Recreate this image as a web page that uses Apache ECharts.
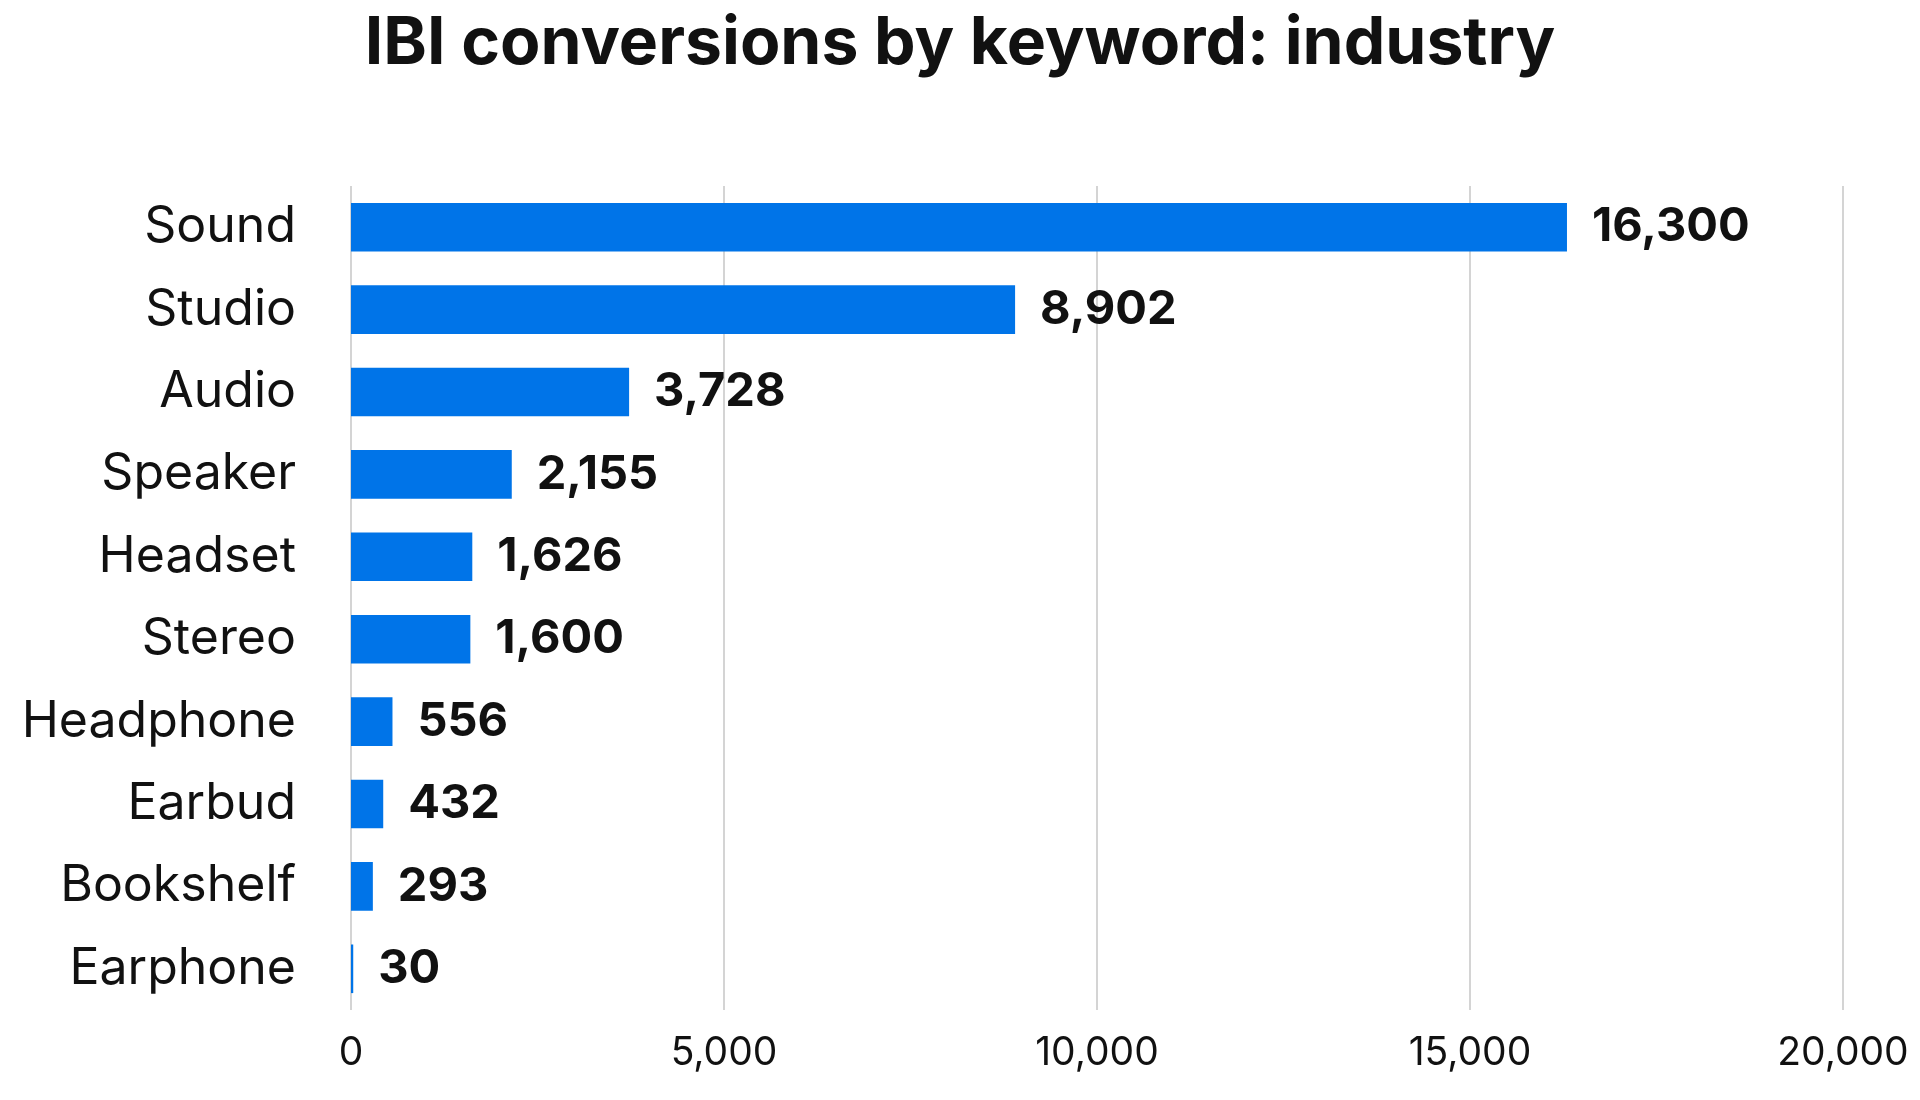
<!DOCTYPE html><html><head><meta charset="utf-8"><script src="https://cdn.jsdelivr.net/npm/echarts@6/dist/echarts.min.js"></script>
<style>html,body{margin:0;background:#fff}#c{width:1920px;height:1100px}</style></head><body><div id="c"></div><script>
const categories=["Sound","Studio","Audio","Speaker","Headset","Stereo","Headphone","Earbud","Bookshelf","Earphone"];
const values=[16300,8902,3728,2155,1626,1600,556,432,293,30];
const c=echarts.init(document.getElementById('c'));
c.setOption({animation:false,
title:{text:"IBI conversions by keyword: industry",left:'center',top:6,textStyle:{fontFamily:'Inter',fontSize:66,fontWeight:'bold',color:'#111'}},
grid:{left:351,right:77,top:186,bottom:90},
xAxis:{type:'value',min:0,max:20000,interval:5000,axisLabel:{fontFamily:'Inter',fontSize:39,color:'#111',margin:24,formatter:v=>v.toLocaleString('en-US')},splitLine:{lineStyle:{color:'#d4d4d4',width:2}},axisLine:{show:false},axisTick:{show:false}},
yAxis:{type:'category',inverse:true,data:categories,axisLabel:{fontFamily:'Inter',fontSize:50,color:'#111',margin:55},axisLine:{show:false},axisTick:{show:false}},
series:[{type:'bar',data:values,barWidth:'59%',itemStyle:{color:'#0074E8'},label:{show:true,position:'right',distance:25,fontFamily:'Inter',fontSize:47,fontWeight:'bold',color:'#111',formatter:p=>p.value.toLocaleString('en-US')}}]});
</script></body></html>
